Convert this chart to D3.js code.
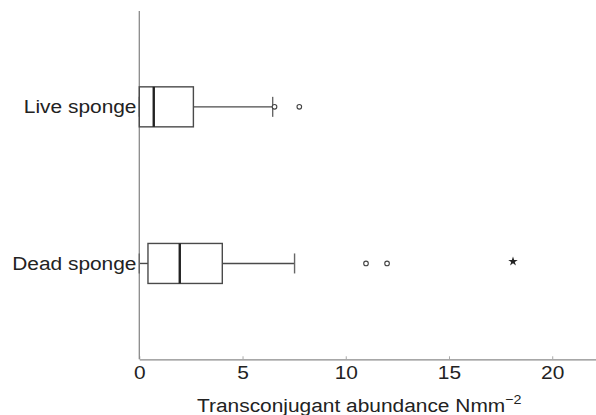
<!DOCTYPE html>
<html><head><meta charset="utf-8">
<script src="https://cdn.jsdelivr.net/npm/d3@7"></script>
<style>html,body{margin:0;padding:0;background:#fff;} svg{display:block;}</style>
</head><body>
<script>
const categories = ["Live sponge", "Dead sponge"];
// five-number summaries: whisker low, Q1, median, Q3, whisker high
const whiskerLow = [0, 0];
const q1 = [0, 0.42];
const median = [0.70, 1.96];
const q3 = [2.62, 4.02];
const whiskerHigh = [6.46, 7.52];
const outliers = [[6.55, 7.75], [10.98, 12.0]];
const extremes = [[], [18.1]];
const xTicks = [0, 5, 10, 15, 20];
const xLabel = "Transconjugant abundance Nmm";

const W = 596, H = 415;
const svg = d3.select("body").append("svg").attr("width", W).attr("height", H);
const font = "'Liberation Sans', Arial, Helvetica, sans-serif";
const FS = 19, SX = 1.1;

const x = d3.scaleLinear().domain([0, 22.12]).range([139.3, 596]);
const y = d3.scalePoint().domain(categories).range([11, 359.3]).padding(0.612);
const boxH = 40;

// axes
const xAxis = d3.axisBottom(x).tickValues(xTicks).tickSizeInner(-3).tickSizeOuter(0).tickPadding(6);
const gx = svg.append("g").attr("transform", "translate(0,359.3)").call(xAxis);
gx.select(".domain").attr("stroke", "#8a8a8a").attr("stroke-width", 1.3);
gx.selectAll(".tick line").attr("stroke", "#aaa");
gx.selectAll(".tick text").attr("font-family", font).attr("font-size", FS).attr("fill", "#222")
  .attr("transform", `scale(${SX},1)`);

svg.append("line").attr("x1", x(0)).attr("x2", x(0)).attr("y1", 11).attr("y2", 359.3)
  .attr("stroke", "#8a8a8a").attr("stroke-width", 1.3);

// y labels
svg.selectAll("text.cat").data(categories).join("text").attr("class", "cat")
  .attr("transform", d => `translate(136.5,${y(d) + 6.5}) scale(${SX},1)`)
  .attr("text-anchor", "end").attr("font-family", font).attr("font-size", FS).attr("fill", "#222")
  .text(d => d);

// x label
const t = svg.append("text").attr("transform", `translate(197,412) scale(${SX},1)`)
  .attr("font-family", font).attr("font-size", FS).attr("fill", "#222");
t.append("tspan").text(xLabel);
t.append("tspan").attr("dy", -8).attr("font-size", 13).text("\u22122");

// boxes
const stroke = "#4a4a4a";
categories.forEach((c, i) => {
  const cy = y(c);
  const g = svg.append("g");
  // whiskers
  g.append("line").attr("x1", x(whiskerLow[i])).attr("x2", x(q1[i])).attr("y1", cy).attr("y2", cy)
    .attr("stroke", stroke).attr("stroke-width", 1.4);
  g.append("line").attr("x1", x(q3[i])).attr("x2", x(whiskerHigh[i])).attr("y1", cy).attr("y2", cy)
    .attr("stroke", stroke).attr("stroke-width", 1.4);
  // caps
  [whiskerLow[i], whiskerHigh[i]].forEach(v => {
    g.append("line").attr("x1", x(v)).attr("x2", x(v)).attr("y1", cy - 10).attr("y2", cy + 10)
      .attr("stroke", "#666").attr("stroke-width", 1.4);
  });
  // box
  g.append("rect").attr("x", x(q1[i])).attr("y", cy - boxH / 2)
    .attr("width", x(q3[i]) - x(q1[i])).attr("height", boxH)
    .attr("fill", "none").attr("stroke", stroke).attr("stroke-width", 1.4);
  // median
  g.append("line").attr("x1", x(median[i])).attr("x2", x(median[i]))
    .attr("y1", cy - boxH / 2).attr("y2", cy + boxH / 2)
    .attr("stroke", "#222").attr("stroke-width", 2.4);
  // outliers
  g.selectAll("circle").data(outliers[i]).join("circle")
    .attr("cx", d => x(d)).attr("cy", cy).attr("r", 2.3)
    .attr("fill", "#fff").attr("stroke", "#444").attr("stroke-width", 1.1);
  g.selectAll("path.ext").data(extremes[i]).join("path").attr("class", "ext")
    .attr("transform", d => `translate(${x(d)},${cy - 2})`)
    .attr("d", d3.symbol(d3.symbolStar, 28)).attr("fill", "#222");
});
</script>
</body></html>
